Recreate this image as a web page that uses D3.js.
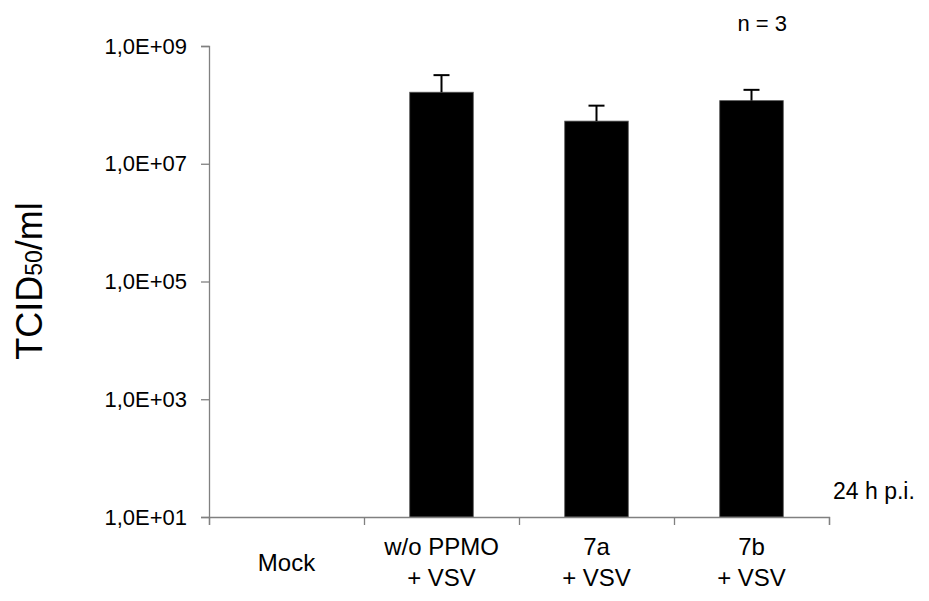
<!DOCTYPE html>
<html>
<head>
<meta charset="utf-8">
<script src="https://cdn.jsdelivr.net/npm/d3@7"></script>
<style>
  body { margin: 0; background: #fff; }
  svg text { font-family: "Liberation Sans", Arial, sans-serif; fill: #000; }
</style>
</head>
<body>
<svg id="chart" width="929" height="601"></svg>
<script>
// Data (TCID50/ml, 24 h p.i., n = 3)
const categories = [["Mock"], ["w/o PPMO", "+ VSV"], ["7a", "+ VSV"], ["7b", "+ VSV"]];
const titers     = [null, 1.64e8, 5.3e7, 1.18e8];
const errorTops  = [null, 3.2e8, 9.7e7, 1.8e8];
const yTicks     = [1e1, 1e3, 1e5, 1e7, 1e9];
const yTickLabels = ["1,0E+01", "1,0E+03", "1,0E+05", "1,0E+07", "1,0E+09"];

const svg = d3.select('#chart');
const plotL = 209, plotR = 829, plotT = 46, plotB = 517;

const x = d3.scaleBand().domain(d3.range(categories.length)).range([plotL, plotR])
  .paddingInner(0).paddingOuter(0);
const barW = x.bandwidth() * 0.41;
const y = d3.scaleLog().domain([1e1, 1e9]).range([plotB, plotT]);

// Bars
const rows = d3.range(categories.length).filter(i => titers[i] != null);
svg.append('g').selectAll('rect').data(rows).join('rect')
  .attr('x', i => x(i) + (x.bandwidth() - barW) / 2)
  .attr('y', i => y(titers[i]))
  .attr('width', barW)
  .attr('height', i => plotB - y(titers[i]))
  .attr('fill', '#000')
  .attr('stroke', '#555')
  .attr('stroke-width', 0.8);

// Error bars (upper only)
const err = svg.append('g').attr('stroke', '#000').attr('stroke-width', 2);
err.selectAll('line.v').data(rows).join('line').attr('class', 'v')
  .attr('x1', i => x(i) + x.bandwidth() / 2)
  .attr('x2', i => x(i) + x.bandwidth() / 2)
  .attr('y1', i => y(titers[i]))
  .attr('y2', i => y(errorTops[i]));
err.selectAll('line.c').data(rows).join('line').attr('class', 'c')
  .attr('x1', i => x(i) + x.bandwidth() / 2 - 8)
  .attr('x2', i => x(i) + x.bandwidth() / 2 + 8)
  .attr('y1', i => y(errorTops[i]))
  .attr('y2', i => y(errorTops[i]));

// Y axis
const yAxis = svg.append('g')
  .attr('transform', `translate(${plotL},0)`)
  .call(d3.axisLeft(y).tickValues(yTicks).tickSize(8).tickPadding(14)
    .tickFormat((d, i) => yTickLabels[i]));
yAxis.selectAll('text').attr('font-size', '22px');

// X axis
svg.append('g')
  .attr('transform', `translate(0,${plotB})`)
  .call(d3.axisBottom(d3.scaleLinear().domain([0, categories.length]).range([plotL, plotR]))
    .tickValues(d3.range(categories.length + 1)).tickSize(8).tickFormat(''));

svg.selectAll('.domain, .tick line').attr('stroke', '#808080').attr('stroke-width', 1.3);

// Category labels
const catG = svg.append('g').attr('font-size', '24px').attr('text-anchor', 'middle');
categories.forEach((lines, i) => {
  const cx = x(i) + x.bandwidth() / 2;
  const t = catG.append('text').attr('x', cx)
    .attr('y', lines.length === 1 ? 571 : 555);
  lines.forEach((s, k) => {
    t.append('tspan').attr('x', cx).attr('dy', k === 0 ? 0 : 31).text(s);
  });
});

// Y title
const yt = svg.append('text')
  .attr('transform', 'translate(42,281) rotate(-90)')
  .attr('text-anchor', 'middle')
  .attr('font-size', '36px');
yt.append('tspan').text('TCID');
yt.append('tspan').attr('font-size', '23px').text('50');
yt.append('tspan').text('/ml');

// Annotations
svg.append('text').attr('x', 787).attr('y', 31).attr('text-anchor', 'end')
  .attr('font-size', '22px').text('n = 3');
svg.append('text').attr('x', 833).attr('y', 499)
  .attr('font-size', '23px').text('24 h p.i.');
</script>
</body>
</html>
